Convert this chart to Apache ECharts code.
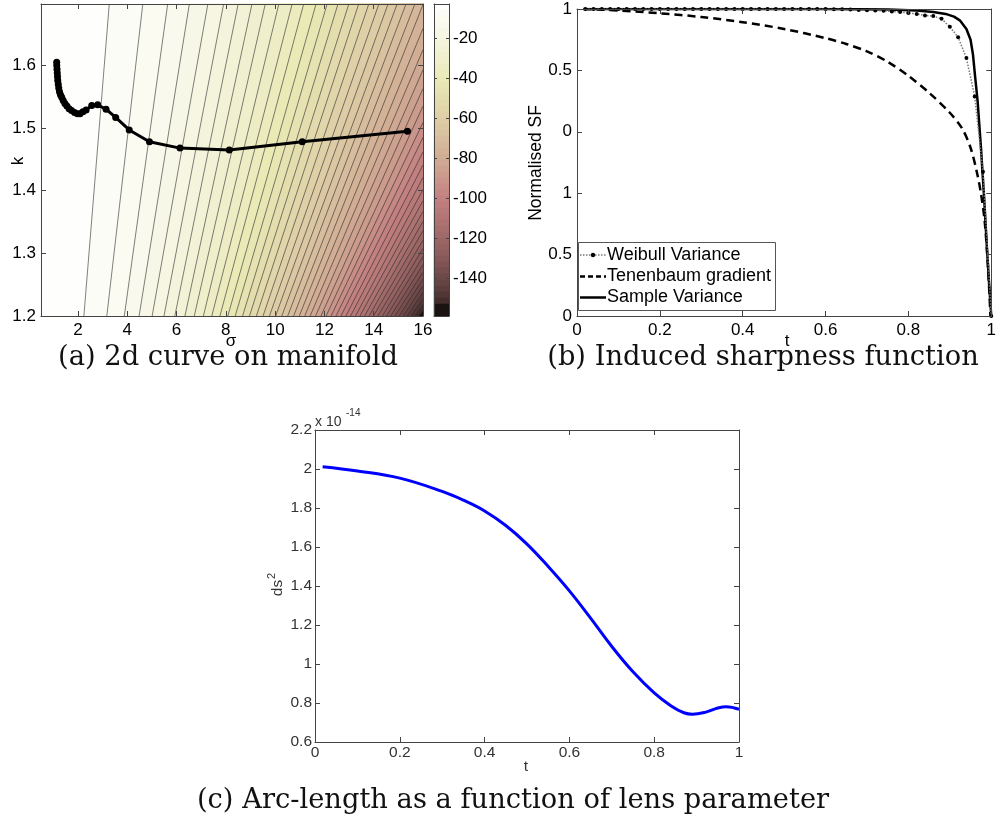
<!DOCTYPE html>
<html><head><meta charset="utf-8">
<script src="https://cdn.jsdelivr.net/npm/echarts@6/dist/echarts.min.js"></script>
<style>html,body{margin:0;padding:0;background:#fff}#c{width:999px;height:825px}</style>
</head><body><div id="c"></div>
<script>
// ---------- Panel (a): 2d curve on manifold ----------
const sigmaRange = [0.5, 16];
const kRange = [1.2, 1.698];
const sigmaTicks = [2, 4, 6, 8, 10, 12, 14, 16];
const kTicks = [1.2, 1.3, 1.4, 1.5, 1.6];
const fieldRange = [-159, -3];
const colorbarTicks = [-140, -120, -100, -80, -60, -40, -20];
const contourLevels = [-6,-9,-12,-15,-18,-21,-24,-27,-30,-33,-36,-39,-42,-45,-48,-51,-54,-57,-60,-63,-66,-69,-72,-75,-78,-81,-84,-87,-90,-93,-96,-99,-102,-105,-108,-111,-114,-117,-120,-123,-126,-129,-132,-135,-138,-141,-144,-147,-150,-153];
// where each contour line meets k = 1.2
const contourBottomSigma = [2.24,3.17,3.88,4.48,5.01,5.49,5.93,6.34,6.72,7.09,7.43,7.76,8.08,8.38,8.68,8.96,9.24,9.51,9.77,10.02,10.27,10.51,10.75,10.98,11.20,11.42,11.64,11.86,12.07,12.27,12.47,12.67,12.87,13.06,13.26,13.44,13.63,13.81,13.99,14.17,14.35,14.52,14.69,14.86,15.03,15.20,15.36,15.52,15.68,15.84];
// first lines leave through the top edge (sigma there)
const contourTopSigma = [3.27,4.63,5.64,6.52,7.27,7.91,8.50,9.06,9.60,10.15,10.69,11.16,11.66,12.11,12.55,12.99,13.39,13.80,14.21,14.58,14.95,15.31,15.67];
// remaining lines leave through the right edge (k there)
const contourRightK = [1.697,1.659,1.625,1.593,1.563,1.535,1.509,1.485,1.462,1.441,1.421,1.402,1.384,1.367,1.351,1.336,1.321,1.308,1.295,1.282,1.270,1.259,1.248,1.238,1.228,1.218,1.209];
const curveSigma = [1.137,1.14,1.15,1.16,1.17,1.18,1.20,1.22,1.25,1.29,1.34,1.40,1.47,1.55,1.64,1.74,1.86,1.98,2.08,2.20,2.33,2.56,2.80,3.14,3.53,4.08,4.90,6.14,8.14,11.10,15.37];
const curveK = [1.605,1.600,1.594,1.588,1.582,1.576,1.570,1.564,1.558,1.553,1.549,1.544,1.539,1.535,1.531,1.528,1.525,1.523,1.523,1.526,1.529,1.536,1.537,1.530,1.517,1.497,1.478,1.468,1.465,1.478,1.495];

// ---------- Panel (b): Induced sharpness function ----------
const bYTickLabels = ['0', '0.5', '1', '0', '0.5', '1'];
const legendNames = ['Weibull Variance', 'Tenenbaum gradient', 'Sample Variance'];
const weibullT = [0.02,0.04,0.06,0.08,0.10,0.12,0.14,0.16,0.18,0.20,0.22,0.24,0.26,0.28,0.30,0.32,0.34,0.36,0.38,0.40,0.42,0.44,0.46,0.48,0.50,0.52,0.54,0.56,0.58,0.60,0.62,0.64,0.66,0.68,0.70,0.72,0.74,0.76,0.78,0.80,0.82,0.84,0.86,0.88,0.90,0.92,0.94,0.96,0.98,1.00];
const weibullV = [1,1,1,1,1,1,1,1,1,1,1,1,1,1,1,1,1,1,1,1,1,1,1,1,1,1,1,1,1,1,0.999,0.999,0.998,0.997,0.996,0.995,0.994,0.992,0.990,0.987,0.984,0.979,0.977,0.968,0.942,0.908,0.840,0.715,0.470,0];
const tenenT = [0.016,0.100,0.200,0.300,0.400,0.500,0.600,0.650,0.700,0.750,0.800,0.850,0.900,0.930,0.950,0.965,0.975,0.984,0.992,0.998];
const tenenV = [1.000,0.995,0.986,0.974,0.957,0.935,0.905,0.886,0.862,0.828,0.782,0.727,0.662,0.610,0.548,0.470,0.400,0.310,0.163,0];
const sampleT = [0.016,0.600,0.750,0.820,0.860,0.890,0.910,0.925,0.940,0.950,0.956,0.961,0.967,0.975,0.983,0.990,0.995,1.000];
const sampleV = [1,1,0.998,0.995,0.990,0.984,0.975,0.962,0.935,0.900,0.850,0.780,0.700,0.550,0.380,0.210,0.100,0];

// ---------- Panel (c): Arc-length ----------
const arcT = [0.018,0.100,0.200,0.300,0.350,0.400,0.450,0.500,0.550,0.600,0.650,0.700,0.750,0.800,0.840,0.870,0.890,0.920,0.950,0.970,1.000];
const arcV = [2.012,1.990,1.953,1.885,1.840,1.785,1.710,1.615,1.500,1.375,1.235,1.090,0.960,0.852,0.785,0.750,0.742,0.752,0.774,0.781,0.768];

// ---------- styling helpers ----------
const pinkStops = [[0,[0,0,0]],[0.05,[71,47,47]],[0.1,[100,66,66]],[0.2,[142,93,93]],[0.3,[174,114,114]],[0.375,[195,128,128]],[0.45,[203,154,140]],[0.5,[208,170,147]],[0.56,[214,187,156]],[0.625,[221,204,165]],[0.69,[227,219,173]],[0.75,[233,233,180]],[0.8,[237,237,198]],[0.875,[244,244,221]],[0.9,[246,246,228]],[1,[255,255,255]]];
function pink(v){
  let t = (v - fieldRange[0]) / (fieldRange[1] - fieldRange[0]);
  t = Math.max(0, Math.min(1, t));
  for (let i = 1; i < pinkStops.length; i++) {
    if (t <= pinkStops[i][0]) {
      const [t0, c0] = pinkStops[i-1], [t1, c1] = pinkStops[i];
      const f = (t - t0) / (t1 - t0);
      const c = c0.map((x, j) => Math.round(x + (c1[j] - x) * f));
      return 'rgb(' + c.join(',') + ')';
    }
  }
  return '#fff';
}
const S0 = sigmaRange[0], S1 = sigmaRange[1], K0 = kRange[0], K1 = kRange[1];
const nLines = contourLevels.length;
function bandBounds(j){ // band j lies right of line j-1
  const hi = j === 0 ? fieldRange[1] : contourLevels[j-1];
  const lo = j === nLines ? fieldRange[0] : contourLevels[j];
  return [lo, hi];
}
function regionRightOf(j){
  if (j < 0) return [[S0,K0],[S1,K0],[S1,K1],[S0,K1]];
  const b = [contourBottomSigma[j], K0];
  if (j < contourTopSigma.length) return [b,[S1,K0],[S1,K1],[contourTopSigma[j],K1]];
  return [b,[S1,K0],[S1,contourRightK[j - contourTopSigma.length]]];
}
function lineEnds(j){
  const b = [contourBottomSigma[j], K0];
  const e = j < contourTopSigma.length ? [contourTopSigma[j], K1] : [S1, contourRightK[j - contourTopSigma.length]];
  return [b, e];
}
const bandData = [];
for (let j = 0; j <= nLines; j++) { const [lo, hi] = bandBounds(j); bandData.push([j, (lo + hi) / 2]); }
const lineData = contourLevels.map((v, j) => [j, v]);

const FONT = 'Liberation Sans';
const AX = '#444';
function ax(o){
  const base = {type:'value', z:5, splitLine:{show:false},
    axisLine:{show:true, onZero:false, lineStyle:{color:AX, width:1}},
    axisTick:{show:true, inside:true, length:5, lineStyle:{color:AX}},
    axisLabel:{show:false}};
  const r = Object.assign({}, base, o);
  r.axisTick = Object.assign({}, base.axisTick, o.axisTick || {});
  r.axisLabel = Object.assign({}, base.axisLabel, o.axisLabel || {});
  return r;
}
const labA = {show:true, fontSize:17, fontFamily:FONT, color:'#000'};
const labC = {show:true, fontSize:15.5, fontFamily:FONT, color:'#333'};

// manual legend for panel (b)
const LG = {x:578, y:242, w:197, h:68, rows:[255, 276.5, 297.5], x1:580, x2:606, tx:607};
const legendGraphics = [
  {type:'rect', z:20, shape:{x:LG.x+0.5, y:LG.y+0.5, width:LG.w, height:LG.h}, style:{fill:'#fff', stroke:'#555', lineWidth:1}},
  {type:'line', z:21, shape:{x1:LG.x1, y1:LG.rows[0], x2:LG.x2, y2:LG.rows[0]}, style:{stroke:'#777', lineWidth:1.5, lineDash:[1.5,1.5]}},
  {type:'circle', z:22, shape:{cx:(LG.x1+LG.x2)/2, cy:LG.rows[0], r:2.2}, style:{fill:'#000'}},
  {type:'line', z:21, shape:{x1:LG.x1, y1:LG.rows[1], x2:LG.x2, y2:LG.rows[1]}, style:{stroke:'#000', lineWidth:2.5, lineDash:[5,3]}},
  {type:'line', z:21, shape:{x1:LG.x1, y1:LG.rows[2], x2:LG.x2, y2:LG.rows[2]}, style:{stroke:'#000', lineWidth:2.5}}
].concat(legendNames.map((n, i) => ({type:'text', z:22, x:LG.tx, y:LG.rows[i], style:{text:n, font:'18px "Liberation Sans"', fill:'#000', align:'left', verticalAlign:'middle'}})));

const CAP = '27.3px "DejaVu Serif"';
const option = {
  animation:false,
  backgroundColor:'#fff',
  grid:[
    {left:41, top:4, width:382, height:312},
    {left:434, top:4, width:15, height:312},
    {left:577, top:9, width:420, height:307},
    {left:315, top:430, width:424, height:312}
  ],
  xAxis:[
    ax({gridIndex:0, min:S0, max:S1, axisTick:{customValues:sigmaTicks}, axisLabel:Object.assign({customValues:sigmaTicks, margin:6}, labA)}),
    ax({gridIndex:0, position:'top', min:S0, max:S1, axisTick:{customValues:sigmaTicks}}),
    ax({gridIndex:1, min:0, max:1, axisTick:{show:false}}),
    ax({gridIndex:1, position:'top', min:0, max:1, axisTick:{show:false}}),
    ax({gridIndex:2, min:0, max:1, interval:0.2, axisLabel:Object.assign({margin:6}, labA)}),
    ax({gridIndex:2, position:'top', min:0, max:1, interval:0.2}),
    ax({gridIndex:3, min:0, max:1, interval:0.2, axisLabel:Object.assign({margin:3}, labC)}),
    ax({gridIndex:3, position:'top', min:0, max:1, interval:0.2})
  ],
  yAxis:[
    ax({gridIndex:0, min:K0, max:K1, axisTick:{customValues:kTicks}, axisLabel:Object.assign({customValues:kTicks, margin:5}, labA)}),
    ax({gridIndex:0, position:'right', min:K0, max:K1, axisTick:{customValues:kTicks}}),
    ax({gridIndex:1, position:'right', min:fieldRange[0], max:fieldRange[1], axisTick:{customValues:colorbarTicks, length:3}, axisLabel:Object.assign({customValues:colorbarTicks, margin:4}, labA)}),
    ax({gridIndex:1, position:'left', min:fieldRange[0], max:fieldRange[1], axisTick:{customValues:colorbarTicks, length:3}}),
    ax({gridIndex:2, min:0, max:1, interval:0.2, axisLabel:Object.assign({margin:5, formatter:v => bYTickLabels[Math.round(v/0.2)]}, labA)}),
    ax({gridIndex:2, position:'right', min:0, max:1, interval:0.2}),
    ax({gridIndex:3, min:0.6, max:2.2, interval:0.2, axisLabel:Object.assign({margin:3}, labC)}),
    ax({gridIndex:3, position:'right', min:0.6, max:2.2, interval:0.2})
  ],
  series:[
    {type:'custom', xAxisIndex:0, yAxisIndex:0, z:1, silent:true, data:bandData,
      renderItem:(p, api) => {
        const j = api.value(0);
        const pts = regionRightOf(j - 1).map(q => api.coord(q));
        const col = pink(api.value(1));
        return {type:'polygon', shape:{points:pts}, style:{fill:col, stroke:col, lineWidth:0.6}};
      }},
    {type:'custom', xAxisIndex:0, yAxisIndex:0, z:2, silent:true, data:lineData,
      renderItem:(p, api) => {
        const [b, e] = lineEnds(api.value(0));
        const pb = api.coord(b), pe = api.coord(e);
        return {type:'line', shape:{x1:pb[0], y1:pb[1], x2:pe[0], y2:pe[1]}, style:{stroke:'#2a2a2a', lineWidth:0.7, opacity:0.85}};
      }},
    {type:'custom', xAxisIndex:2, yAxisIndex:2, z:1, silent:true, data:bandData,
      renderItem:(p, api) => {
        const [lo, hi] = bandBounds(api.value(0));
        const a = api.coord([0, hi]), b = api.coord([1, lo]);
        const col = pink(api.value(1));
        return {type:'rect', shape:{x:a[0], y:a[1], width:b[0]-a[0], height:b[1]-a[1]}, style:{fill:col, stroke:col, lineWidth:0.5}};
      }},
    {type:'line', name:'curve', xAxisIndex:0, yAxisIndex:0, z:3,
      data:curveSigma.map((s, i) => [s, curveK[i]]),
      symbol:'circle', symbolSize:7, showSymbol:true,
      lineStyle:{color:'#000', width:3}, itemStyle:{color:'#000'}},
    {type:'line', name:legendNames[0], xAxisIndex:4, yAxisIndex:4, z:4,
      data:weibullT.map((t, i) => [t, weibullV[i]]),
      symbol:'circle', symbolSize:4, showSymbol:true,
      lineStyle:{color:'#777', width:1.5, type:'dotted'}, itemStyle:{color:'#000'}},
    {type:'line', name:legendNames[1], xAxisIndex:4, yAxisIndex:4, z:3,
      data:tenenT.map((t, i) => [t, tenenV[i]]), showSymbol:false, symbol:'none', smooth:0.3,
      lineStyle:{color:'#000', width:2.5, type:[8,5]}},
    {type:'line', name:legendNames[2], xAxisIndex:4, yAxisIndex:4, z:3,
      data:sampleT.map((t, i) => [t, sampleV[i]]), showSymbol:false, symbol:'none',
      lineStyle:{color:'#000', width:2.5}},
    {type:'line', name:'arc', xAxisIndex:6, yAxisIndex:6, z:3,
      data:arcT.map((t, i) => [t, arcV[i]]), showSymbol:false, symbol:'none', smooth:0.4,
      lineStyle:{color:'#0000ff', width:3}}
  ],
  graphic:[
    {type:'text', x:18, y:161, rotation:Math.PI/2, style:{text:'k', font:'17px "Liberation Sans"', fill:'#000', align:'center', verticalAlign:'middle'}},
    {type:'text', x:231, y:341, style:{text:'σ', font:'17px "Liberation Sans"', fill:'#000', align:'center', verticalAlign:'middle'}},
    {type:'text', x:536, y:163, rotation:Math.PI/2, style:{text:'Normalised SF', font:'17.5px "Liberation Sans"', fill:'#000', align:'center', verticalAlign:'middle'}},
    {type:'text', x:787, y:341, style:{text:'t', font:'17px "Liberation Sans"', fill:'#000', align:'center', verticalAlign:'middle'}},
    {type:'text', x:526, y:767, style:{text:'t', font:'15.5px "Liberation Sans"', fill:'#333', align:'center', verticalAlign:'middle'}},
    {type:'text', x:278, y:588, rotation:Math.PI/2, style:{text:'ds', font:'15.5px "Liberation Sans"', fill:'#333', align:'center', verticalAlign:'middle'}},
    {type:'text', x:272, y:576, rotation:Math.PI/2, style:{text:'2', font:'11px "Liberation Sans"', fill:'#333', align:'center', verticalAlign:'middle'}},
    {type:'text', x:315, y:422, style:{text:'x 10', font:'14px "Liberation Sans"', fill:'#333', align:'left', verticalAlign:'middle'}},
    {type:'text', x:346, y:413, style:{text:'-14', font:'10px "Liberation Sans"', fill:'#333', align:'left', verticalAlign:'middle'}},
    {type:'text', x:228, y:358, style:{text:'(a) 2d curve on manifold', font:CAP, fill:'#111', align:'center', verticalAlign:'middle'}},
    {type:'text', x:763, y:358, style:{text:'(b) Induced sharpness function', font:CAP, fill:'#111', align:'center', verticalAlign:'middle'}},
    {type:'text', x:513, y:801, style:{text:'(c) Arc-length as a function of lens parameter', font:CAP, fill:'#111', align:'center', verticalAlign:'middle'}}
  ].concat(legendGraphics)
};
const chart = echarts.init(document.getElementById('c'));
chart.setOption(option);
</script></body></html>
